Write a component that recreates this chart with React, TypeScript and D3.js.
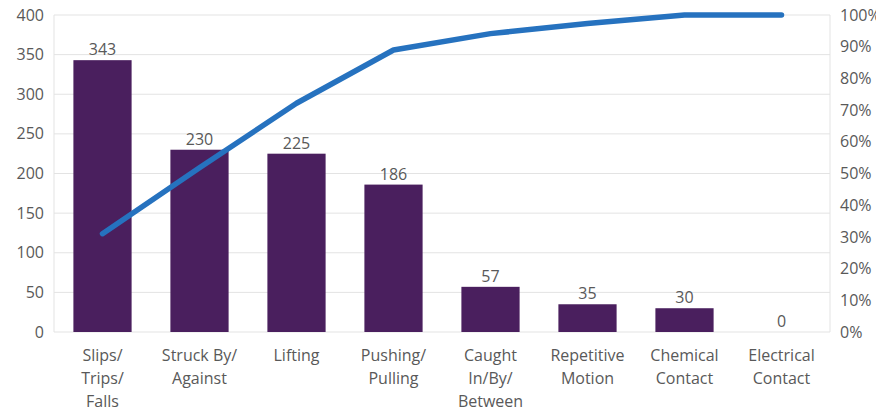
import React from "react";
import * as d3 from "d3";

const categories: string[][] = [
  ["Slips/", "Trips/", "Falls"],
  ["Struck By/", "Against"],
  ["Lifting"],
  ["Pushing/", "Pulling"],
  ["Caught", "In/By/", "Between"],
  ["Repetitive", "Motion"],
  ["Chemical", "Contact"],
  ["Electrical", "Contact"],
];
const counts: number[] = [343, 230, 225, 186, 57, 35, 30, 0];
const leftTicks: number[] = [0, 50, 100, 150, 200, 250, 300, 350, 400];
const rightTicks: number[] = [0, 0.1, 0.2, 0.3, 0.4, 0.5, 0.6, 0.7, 0.8, 0.9, 1];

const W = 876;
const H = 416;
const margin = { left: 54, right: 46, top: 15, bottom: 84 };
const FONT = "'Open Sans', sans-serif";
const FS = 16;
const TEXT = "#595959";
const GRID = "#e3e3e3";
const BAR = "#4a1f5e";
const LINE = "#2672bf";

export default function App() {
  const x0 = margin.left;
  const x1 = W - margin.right;
  const y0 = H - margin.bottom;
  const y1 = margin.top;

  const keys = categories.map((c) => c.join(" "));
  const x = d3.scaleBand<string>().domain(keys).range([x0, x1]).paddingInner(0.4).paddingOuter(0.2);
  const y = d3.scaleLinear().domain([0, 400]).range([y0, y1]);
  const yPct = d3.scaleLinear().domain([0, 1]).range([y0, y1]);

  const total = d3.sum(counts);
  const cumulative = d3.cumsum(counts).map((v) => v / total);
  const cx = (i: number) => (x(keys[i]) as number) + x.bandwidth() / 2;

  const line = d3
    .line<number>()
    .x((_, i) => cx(i))
    .y((d) => yPct(d));

  return (
    <svg
      width={W}
      height={H}
      style={{ position: "absolute", left: 0, top: 0, background: "#fff" }}
      fontFamily={FONT}
    >
      {leftTicks.map((t) => (
        <line key={"g" + t} x1={x0} x2={x1} y1={y(t)} y2={y(t)} stroke={GRID} strokeWidth={1} />
      ))}
      <line x1={x0} x2={x0} y1={y1} y2={y0} stroke={GRID} strokeWidth={1} />
      <line x1={x1} x2={x1} y1={y1} y2={y0} stroke={GRID} strokeWidth={1} />

      {leftTicks.map((t) => (
        <text key={"l" + t} x={44} y={y(t)} dy="0.35em" textAnchor="end" fontSize={FS} fill={TEXT}>
          {t}
        </text>
      ))}
      {rightTicks.map((t) => (
        <text key={"r" + t} x={840} y={yPct(t)} dy="0.35em" textAnchor="start" fontSize={FS} fill={TEXT}>
          {d3.format(".0%")(t)}
        </text>
      ))}

      {counts.map((v, i) => (
        <g key={"b" + i}>
          <rect x={x(keys[i])} y={y(v)} width={x.bandwidth()} height={y0 - y(v)} fill={BAR} />
          <text x={cx(i)} y={y(v) - 5} textAnchor="middle" fontSize={FS} fill={TEXT}>
            {v}
          </text>
        </g>
      ))}

      <path
        d={line(cumulative) || ""}
        fill="none"
        stroke={LINE}
        strokeWidth={5.5}
        strokeLinejoin="round"
        strokeLinecap="round"
      />

      {categories.map((lines, i) => (
        <text key={"c" + i} x={cx(i)} y={361} textAnchor="middle" fontSize={FS} fill={TEXT}>
          {lines.map((s, j) => (
            <tspan key={j} x={cx(i)} dy={j === 0 ? 0 : 23}>
              {s}
            </tspan>
          ))}
        </text>
      ))}
    </svg>
  );
}
